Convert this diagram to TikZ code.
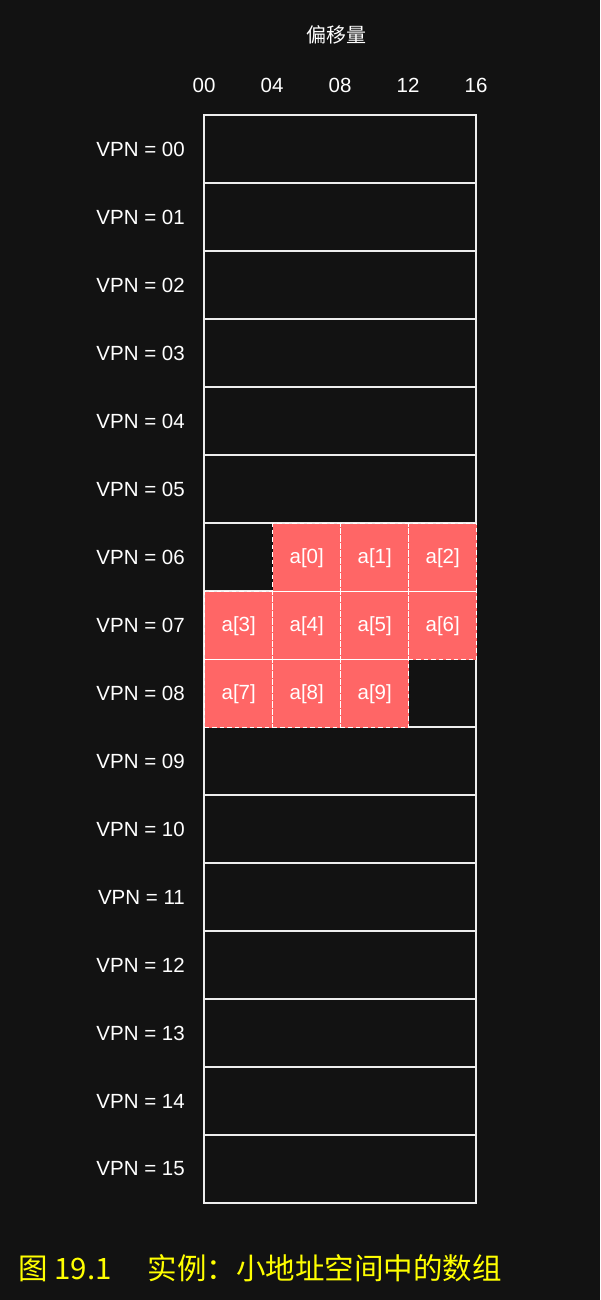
\documentclass[tikz,border=0pt]{standalone}
\usepackage{fontspec}
\setmainfont{Liberation Sans}
\newfontfamily\cjk{Noto Sans CJK SC}
\definecolor{bg}{HTML}{121212}
\definecolor{cellred}{HTML}{FF6666}
\definecolor{capyellow}{HTML}{FFFF00}
\definecolor{gridline}{HTML}{EEEEEE}
\begin{document}
\begin{tikzpicture}[x=1pt,y=-1pt,
  rowbox/.style={draw=gridline, line width=1.6pt, fill=bg, rectangle, anchor=north west,
    minimum width=272pt, minimum height=68pt, inner sep=0pt, outer sep=0pt},
  redcell/.style={draw=white, line width=1.4pt, dash pattern=on 4.5pt off 3pt, fill=cellred,
    rectangle, anchor=north west, minimum width=68pt, minimum height=68pt, inner sep=0pt,
    text=white, font=\fontsize{20.5pt}{24pt}\selectfont},
  lbl/.style={text=white, inner sep=0pt, font=\fontsize{20.5pt}{24pt}\selectfont},
  cjklbl/.style={text=white, inner sep=0pt, font=\cjk\fontsize{20pt}{24pt}\selectfont},
  caption/.style={text=capyellow, inner sep=0pt, font=\cjk\fontsize{29.5pt}{36pt}\selectfont}
]
\fill[bg] (0,0) rectangle (600,1300);
\useasboundingbox (0,0) rectangle (600,1300);
% title
\node[cjklbl] (title) at (336,35) {偏移量};
% column labels
\foreach \j/\t in {0/00,1/04,2/08,3/12,4/16}
  \node[lbl] (c\j) at ({204+68*\j},85) {\t};
% rows
\foreach \i in {0,...,15} {
  \node[rowbox] (r\i) at (204,{115+68*\i}) {};
  \node[lbl, anchor=east] (v\i) at (185,{149+68*\i}) {VPN = \ifnum\i<10 0\fi\i};
}
% array cells
\foreach \r/\c/\k in {6/1/0,6/2/1,6/3/2,7/0/3,7/1/4,7/2/5,7/3/6,8/0/7,8/1/8,8/2/9}
  \node[redcell] (a\k) at ({204+68*\c},{115+68*\r}) {a[\k]};
% caption
\node[caption, anchor=west] (cap) at (18,1268) {图 19.1\hspace{36pt}实例：小地址空间中的数组};
\end{tikzpicture}
\end{document}
